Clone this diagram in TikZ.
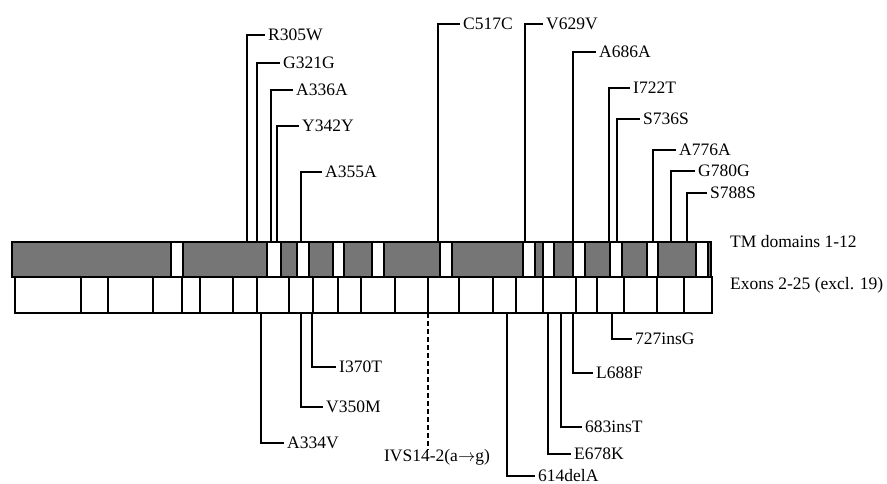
\documentclass[tikz,border=0pt]{standalone}
\usepackage{fontspec}
\setmainfont{Liberation Serif}
\definecolor{tmgray}{RGB}{118,118,118}
\begin{document}
\begin{tikzpicture}[x=1pt,y=-1pt,
  lab/.style={font=\fontsize{17.5}{20}\selectfont, inner xsep=3pt, inner ysep=0pt,
              text height=11.6pt, text depth=0pt, anchor=west},
  leader/.style={line width=1.5pt},
  bar/.style={line width=1.8pt},
  side/.style={font=\fontsize{17.5}{20}\selectfont, inner sep=0pt, anchor=west}]
\useasboundingbox (0,0) rectangle (887,484);
% TM domains bar
\fill[tmgray] (12,242) rectangle (711,277);
\foreach \a/\b in {171/183,267/281,297/309,333/344,372/384,440/452,523/535,543/554,573/585,610/622,647/658,696/708}
  \draw[bar,fill=white] (\a,242) rectangle (\b,277);
\draw[bar] (12,242) rectangle (711,277);
% Exons bar
\draw[bar] (15,277) rectangle (712,313);
\foreach \x in {81,108,153,182,200,233,257,289,313,338,361,395,428,459,493,516,543,576,597,624,657,684}
  \draw[bar] (\x,277) -- (\x,313);
% side labels
\node[side] (tmlab) at (730,242) {TM domains 1-12};
\node[side] (exlab) at (730,285) {Exons 2-25 (excl. 19)};
% top labels: name / text / bar x / y / end of horizontal
\foreach \n/\t/\bx/\y/\e in {r305w/R305W/247/35/265, g321g/G321G/257/63/280, a336a/A336A/271/90/293,
   y342y/Y342Y/277/126/299, a355a/A355A/301/172/322, c517c/C517C/438/24/460, v629v/V629V/525/24/543,
   a686a/A686A/573/52/596, i722t/I722T/609/88/630, s736s/S736S/617/119/640, a776a/A776A/653/150/676,
   g780g/G780G/671/171/695, s788s/S788S/687/193/707}{
  \node[lab] (\n) at (\e,\y) {\t};
  \coordinate (\n-b) at (\bx,242);
  \draw[leader] (\n-b) |- (\n.west);
}
% bottom labels
\foreach \n/\t/\bx/\y/\e in {a334v/A334V/261/443/284, v350m/V350M/301/407/323, i370t/I370T/312/367/336,
   d614/614delA/507/476/535, e678k/E678K/548/454/571, i683/683insT/561/427/582, l688f/L688F/573/373/593,
   i727/727insG/612/339/632}{
  \node[lab] (\n) at (\e,\y) {\t};
  \coordinate (\n-b) at (\bx,313);
  \draw[leader] (\n-b) |- (\n.west);
}
% intronic variant
\node[font=\fontsize{17.5}{20}\selectfont, inner sep=0pt, text height=11.6pt, text depth=0pt] (ivs) at (437,456) {IVS14-2(a\ensuremath{\rightarrow}g)};
\coordinate (ivs-b) at (428,313);
\draw[leader,dashed,dash pattern=on 5pt off 3pt] (ivs-b) -- (ivs-b |- ivs.north);
\end{tikzpicture}
\end{document}
